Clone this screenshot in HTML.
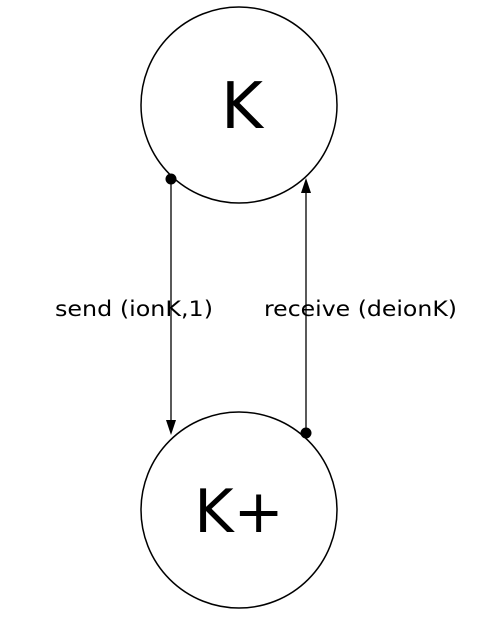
<!DOCTYPE html>
<html>
<head>
<meta charset="utf-8">
<style>
html,body{margin:0;padding:0;background:#fff;}
svg{display:block;}
text{font-family:"DejaVu Sans","Liberation Sans",sans-serif;fill:#000;}
</style>
</head>
<body>
<svg width="485" height="617" viewBox="0 0 485 617">
  <g>
    <circle cx="239" cy="105" r="98" fill="#fff" stroke="#000" stroke-width="1.5"/>
    <text x="242" y="128" font-size="64" text-anchor="middle">K</text>
  </g>
  <g>
    <circle cx="239" cy="510" r="98" fill="#fff" stroke="#000" stroke-width="1.5"/>
    <text x="239" y="532" font-size="60" text-anchor="middle">K+</text>
  </g>
  <g>
    <line x1="171" y1="179" x2="171" y2="421" stroke="#000" stroke-width="1.3"/>
    <path d="M166,420 L176,420 L171,435 Z" fill="#000"/>
    <circle cx="171" cy="179" r="5.5" fill="#000"/>
    <text x="55" y="316" font-size="21" textLength="158" lengthAdjust="spacingAndGlyphs">send (ionK,1)</text>
  </g>
  <g>
    <line x1="306" y1="433" x2="306" y2="192" stroke="#000" stroke-width="1.3"/>
    <path d="M301,193 L311,193 L306,178 Z" fill="#000"/>
    <circle cx="306" cy="433" r="5.5" fill="#000"/>
    <text x="264" y="316" font-size="21" textLength="193" lengthAdjust="spacingAndGlyphs">receive (deionK)</text>
  </g>
</svg>
</body>
</html>
